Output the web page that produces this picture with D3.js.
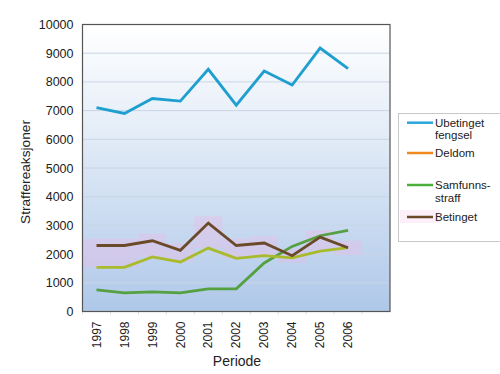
<!DOCTYPE html>
<html><head><meta charset="utf-8">
<script src="https://cdn.jsdelivr.net/npm/d3@7"></script>
<style>body{margin:0;background:#fff}svg{display:block;font-family:"Liberation Sans",Arial,sans-serif}</style>
</head><body>
<svg id="c" width="500" height="374"></svg>
<script>
const years = ["1997","1998","1999","2000","2001","2002","2003","2004","2005","2006"];
const ubetinget = [7100, 6900, 7420, 7330, 8440, 7190, 8380, 7890, 9180, 8460];
const deldom = [1540, 1540, 1900, 1725, 2210, 1852, 1944, 1870, 2106, 2222];
const samfunnsstraff = [750, 650, 685, 650, 788, 788, 1690, 2268, 2640, 2823];
const betinget = [2300, 2300, 2465, 2130, 3080, 2300, 2385, 1944, 2593, 2222];
const yTicks = [0,1000,2000,3000,4000,5000,6000,7000,8000,9000,10000];
const seriesNames = [["Ubetinget","fengsel"],["Deldom"],["Samfunns-","straff"],["Betinget"]];
const lineColors = ["#1e9fd0","#a9bb2c","#55a040","#6b4a2a"];
const legendColors = ["#2aa7dc","#f08a1c","#4caf3c","#6b4a2a"];

const svg = d3.select("#c");
const L=82.5, T=24.5, R=390, B=311.5;
const slots = years.concat([""]);
const x = d3.scaleBand().domain(slots).range([L,R]);
const y = d3.scaleLinear().domain([0,10000]).range([B,T]);
const cx = d => x(d)+x.bandwidth()/2;

const defs = svg.append("defs");
const g = defs.append("linearGradient").attr("id","bg").attr("x1",0).attr("y1",0).attr("x2",0).attr("y2",1);
g.append("stop").attr("offset","0%").attr("stop-color","#ffffff");
g.append("stop").attr("offset","35%").attr("stop-color","#e6eef8");
g.append("stop").attr("offset","100%").attr("stop-color","#afc8e9");
svg.append("rect").attr("x",L).attr("y",T).attr("width",R-L).attr("height",B-T).attr("fill","url(#bg)");

// gridlines
svg.append("g").selectAll("line").data(yTicks.slice(1,-1)).join("line")
  .attr("x1",L).attr("x2",R).attr("y1",d=>y(d)).attr("y2",d=>y(d))
  .attr("stroke","#c9d6e6").attr("stroke-width",1);

// pink highlight bands
svg.append("g").selectAll("rect").data(years).join("rect")
  .attr("x",d=>x(d)).attr("width",x.bandwidth())
  .attr("y",(d,i)=>y(betinget[i])-7)
  .attr("height",(d,i)=>Math.max(14, y(Math.min(betinget[i],deldom[i])) - y(betinget[i]) + 7))
  .attr("fill","#f2b6e4").attr("opacity",0.35);

// axes
const yAxis = d3.axisLeft(y).tickValues(yTicks).tickFormat(d3.format("d")).tickSize(0).tickPadding(9);
const ya = svg.append("g").attr("transform",`translate(${L},0)`).call(yAxis);
ya.select(".domain").remove();
ya.selectAll("text").attr("font-size","12.5px").attr("fill","#222").attr("font-family","Liberation Sans, Arial, sans-serif");

const xAxis = d3.axisBottom(x).tickValues(years).tickSize(0).tickPadding(0);
const xa = svg.append("g").attr("transform",`translate(0,${B})`).call(xAxis);
xa.select(".domain").remove();
xa.selectAll("text").attr("font-size","12px").attr("fill","#222").attr("font-family","Liberation Sans, Arial, sans-serif")
  .attr("transform","rotate(-90)").attr("text-anchor","end").attr("dy","0.35em").attr("x",-10).attr("y",0);

// small ticks at band boundaries
svg.append("g").selectAll("line").data(slots).join("line")
  .attr("x1",d=>x(d)).attr("x2",d=>x(d)).attr("y1",B).attr("y2",B+3).attr("stroke","#ddd");

// border
svg.append("rect").attr("x",L).attr("y",T).attr("width",R-L).attr("height",B-T)
  .attr("fill","none").attr("stroke","#555").attr("stroke-width",1.2);

const line = d3.line().x((d,i)=>cx(years[i])).y(d=>y(d));
const data = [ubetinget, deldom, samfunnsstraff, betinget];
const order = [2,1,3,0];
order.forEach(k=>{
  svg.append("path").datum(data[k]).attr("d",line).attr("fill","none")
    .attr("stroke",lineColors[k]).attr("stroke-width",2.8).attr("stroke-linejoin","miter");
});

// axis titles
svg.append("text").attr("x",237).attr("y",366).attr("text-anchor","middle")
  .attr("font-size","14px").attr("fill","#222").text("Periode");
svg.append("text").attr("transform","translate(30,172) rotate(-90)").attr("text-anchor","middle")
  .attr("font-size","13.7px").attr("fill","#222").text("Straffereaksjoner");

// legend
svg.append("rect").attr("x",398.5).attr("y",113.5).attr("width",104).attr("height",128)
  .attr("fill","#fff").attr("stroke","#c8c8c8");
svg.append("rect").attr("x",400).attr("y",210).attr("width",40).attr("height",13).attr("fill","#fdf0fb");
const ly = [[122.7,134.5],[153],[185,198],[217]];
seriesNames.forEach((nm,i)=>{
  svg.append("line").attr("x1",407).attr("x2",433).attr("y1",ly[i][0]).attr("y2",ly[i][0])
    .attr("stroke",legendColors[i]).attr("stroke-width",2.5);
  nm.forEach((t,j)=>{
    svg.append("text").attr("x",435).attr("y",ly[i][j]).attr("dy","0.36em")
      .attr("font-size","11.5px").attr("fill","#222").text(t);
  });
});
</script>
</body></html>
